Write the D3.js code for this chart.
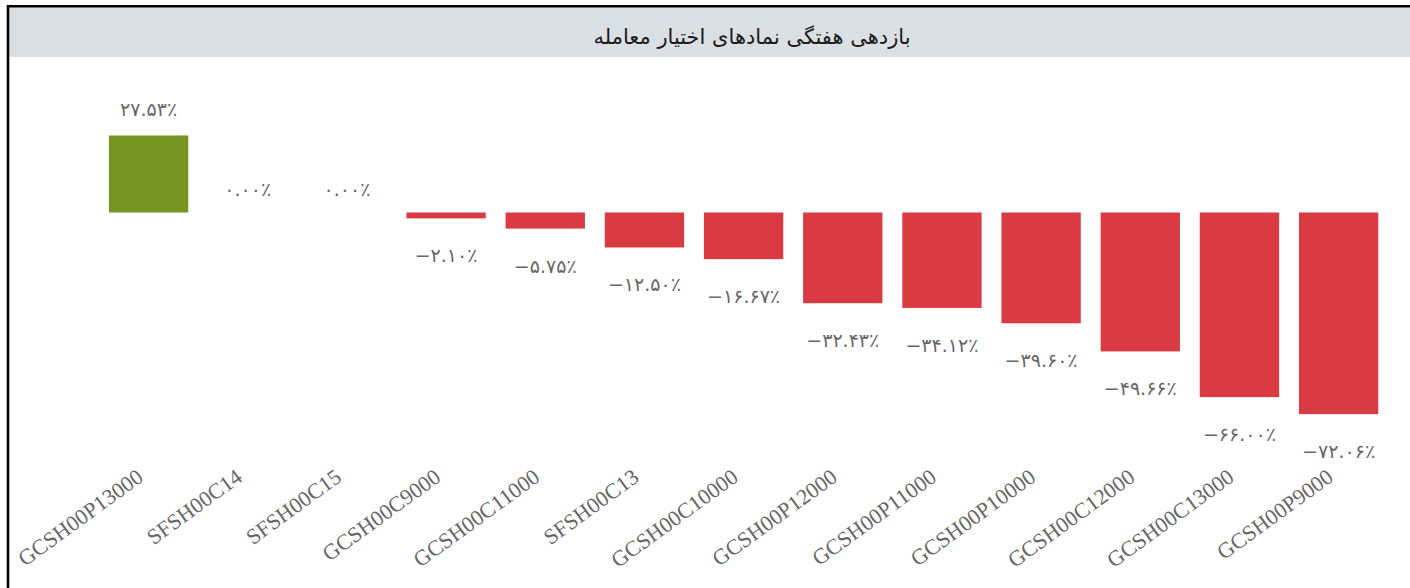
<!DOCTYPE html>
<html lang="fa">
<head>
<meta charset="utf-8">
<script src="https://cdn.jsdelivr.net/npm/d3@7"></script>
<style>
  html, body { margin: 0; padding: 0; background: #fff; overflow: hidden; }
  svg { display: block; }
</style>
</head>
<body>
<svg id="chart" width="1410" height="588"></svg>
<script>
// Weekly return of traded option symbols (percent)
const symbols = [
  "GCSH00P13000", "SFSH00C14", "SFSH00C15", "GCSH00C9000", "GCSH00C11000",
  "SFSH00C13", "GCSH00C10000", "GCSH00P12000", "GCSH00P11000", "GCSH00P10000",
  "GCSH00C12000", "GCSH00C13000", "GCSH00P9000"
];
const returns = [27.53, 0, 0, -2.10, -5.75, -12.50, -16.67, -32.43, -34.12, -39.60, -49.66, -66.00, -72.06];
const titleText = "بازدهی هفتگی نمادهای اختیار معامله";

const W = 1410, H = 588;
const svg = d3.select("#chart");

// Title band and frame
svg.append("rect")
  .attr("x", 8).attr("y", 7)
  .attr("width", W).attr("height", 50)
  .attr("fill", "#dadfe3");

svg.append("text")
  .attr("x", 752).attr("y", 44)
  .attr("text-anchor", "middle")
  .attr("direction", "rtl")
  .attr("font-family", "'DejaVu Sans', 'Noto Sans', sans-serif")
  .attr("font-size", 21)
  .attr("fill", "#1a1a1a")
  .text(titleText);

svg.append("path")
  .attr("d", `M8,${H + 5} L8,6.3 L${W + 5},6.3`)
  .attr("fill", "none")
  .attr("stroke", "#000")
  .attr("stroke-width", 2.6);

// Scales
const x = d3.scaleBand()
  .domain(symbols)
  .range([99, 1388.2])
  .paddingInner(0.2)
  .paddingOuter(0.1);

const y = d3.scaleLinear()
  .domain([-80, 40])
  .range([436.3, 100.6]);

const data = symbols.map((s, i) => ({ symbol: s, value: returns[i] }));

// Bars
svg.append("g")
  .selectAll("rect")
  .data(data)
  .join("rect")
  .attr("x", d => x(d.symbol))
  .attr("width", x.bandwidth())
  .attr("y", d => y(Math.max(0, d.value)))
  .attr("height", d => Math.abs(y(d.value) - y(0)))
  .attr("fill", d => d.value >= 0 ? "#779521" : "#da3b42");

// Value labels in Persian digits
const faDigits = "۰۱۲۳۴۵۶۷۸۹";
const toFa = s => s.replace(/[0-9]/g, c => faDigits[+c]);
const fmt = v => (v < 0 ? "\u2212" : "") + toFa(Math.abs(v).toFixed(2)) + "٪";

svg.append("g")
  .selectAll("text")
  .data(data)
  .join("text")
  .attr("x", d => x(d.symbol) + x.bandwidth() / 2)
  .attr("y", d => d.value > 0 ? y(d.value) - 19 : d.value === 0 ? y(0) - 17 : y(d.value) + 44)
  .attr("text-anchor", "middle")
  .attr("direction", "ltr")
  .attr("font-family", "'DejaVu Sans', sans-serif")
  .attr("font-size", 19)
  .attr("fill", "#666")
  .text(d => fmt(d.value));

// Category axis with rotated labels
const axis = svg.append("g")
  .attr("transform", "translate(0,470)")
  .call(d3.axisBottom(x).tickSize(0).tickPadding(0));
axis.select(".domain").remove();
axis.selectAll("text")
  .attr("font-family", "'Liberation Serif', 'Times New Roman', serif")
  .attr("font-size", 22)
  .attr("fill", "#666")
  .attr("text-anchor", "end")
  .attr("y", 0)
  .attr("dy", 0)
  .attr("transform", "translate(-4,10) rotate(-36)");
</script>
</body>
</html>
